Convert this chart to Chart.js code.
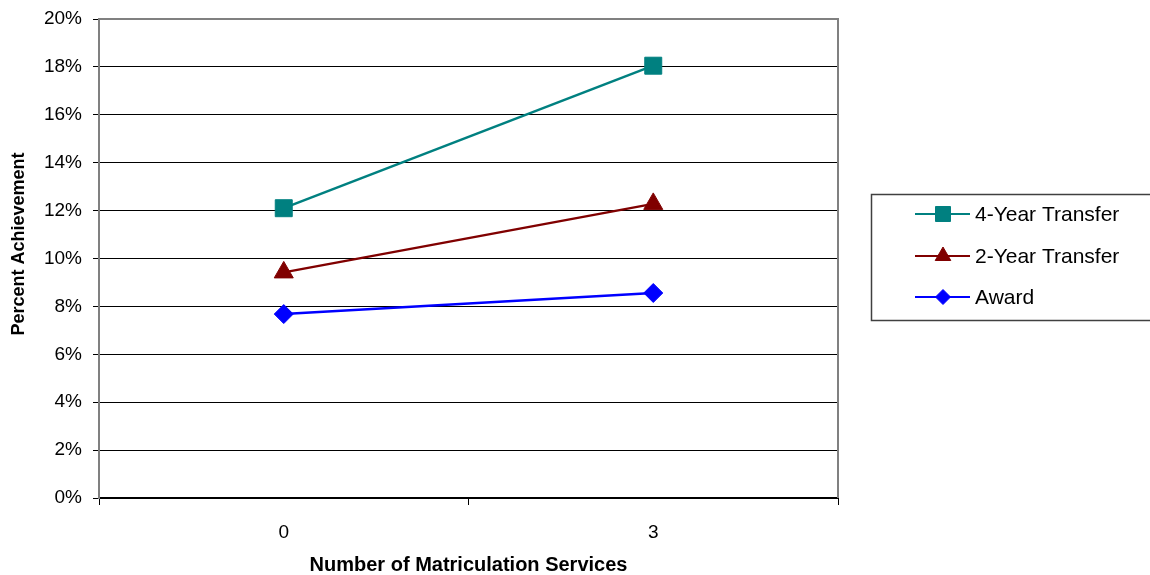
<!DOCTYPE html>
<html>
<head>
<meta charset="utf-8">
<style>
  html, body { margin: 0; padding: 0; background: #ffffff; }
  #wrap { width: 1150px; height: 575px; position: relative; }
</style>
<script src="https://cdn.jsdelivr.net/npm/chart.js@4/dist/chart.umd.min.js"></script>
</head>
<body>
<div id="wrap"><canvas id="chart" width="1150" height="575"></canvas></div>
<script>
// Matriculation services vs. outcome rates
const categories = ['0', '3'];
const fourYearTransfer = [12.1, 18.05];
const twoYearTransfer = [9.42, 12.28];
const award = [7.68, 8.56];
const yTicks = [0, 2, 4, 6, 8, 10, 12, 14, 16, 18, 20];
const yTitle = 'Percent Achievement';
const xTitle = 'Number of Matriculation Services';

const FONT = '"Liberation Sans", Arial, sans-serif';

const series = [
  { label: '4-Year Transfer', data: fourYearTransfer, color: '#008080', pointStyle: 'rect', radius: 12, legendRadius: 10.6 },
  { label: '2-Year Transfer', data: twoYearTransfer, color: '#800000', pointStyle: 'triangle', radius: 11, legendRadius: 9 },
  { label: 'Award', data: award, color: '#0000FF', pointStyle: 'rectRot', radius: 9.5, legendRadius: 7.5 }
];

// Plot frame (grey top/right border), y-axis title and boxed legend on the right
const framePlugin = {
  id: 'frameAndLegend',
  beforeDatasetsDraw(chart) {
    const { ctx, chartArea: a } = chart;
    ctx.save();
    ctx.strokeStyle = '#808080';
    ctx.lineWidth = 2;
    ctx.beginPath();
    ctx.moveTo(a.left, a.top);
    ctx.lineTo(a.right, a.top);
    ctx.lineTo(a.right, a.bottom);
    ctx.stroke();
    ctx.restore();
  },
  afterDraw(chart) {
    const { ctx } = chart;
    ctx.save();
    // y-axis title, rotated
    ctx.translate(19, 244);
    ctx.rotate(-Math.PI / 2);
    ctx.font = 'bold 18px ' + FONT;
    ctx.fillStyle = '#000000';
    ctx.textAlign = 'center';
    ctx.textBaseline = 'middle';
    ctx.fillText(yTitle, 0, 0);
    ctx.restore();

    ctx.save();
    ctx.strokeStyle = '#404040';
    ctx.lineWidth = 1.5;
    ctx.strokeRect(871.5, 194.5, 300, 126);
    ctx.font = '21px ' + FONT;
    ctx.textBaseline = 'middle';
    ctx.textAlign = 'left';
    const rows = [214, 256, 297];
    chart.data.datasets.forEach((ds, i) => {
      const y = rows[i];
      ctx.strokeStyle = ds.borderColor;
      ctx.lineWidth = 2;
      ctx.beginPath();
      ctx.moveTo(915, y);
      ctx.lineTo(970, y);
      ctx.stroke();
      ctx.fillStyle = ds.pointBackgroundColor;
      ctx.strokeStyle = ds.pointBackgroundColor;
      ctx.lineWidth = 1;
      Chart.helpers.drawPoint(ctx, {
        pointStyle: ds.pointStyle,
        radius: ds.legendRadius,
        rotation: 0,
        borderWidth: 1
      }, 943, y);
      ctx.fillStyle = '#000000';
      ctx.fillText(ds.label, 975, y + 1);
    });
    ctx.restore();
  }
};

new Chart(document.getElementById('chart'), {
  type: 'line',
  data: {
    labels: categories,
    datasets: series.map(s => ({
      label: s.label,
      data: s.data,
      borderColor: s.color,
      backgroundColor: s.color,
      pointBackgroundColor: s.color,
      pointBorderColor: s.color,
      pointStyle: s.pointStyle,
      pointRadius: s.radius,
      legendRadius: s.legendRadius,
      pointBorderWidth: 1,
      borderWidth: 2.5,
      tension: 0,
      fill: false
    }))
  },
  options: {
    responsive: false,
    animation: false,
    devicePixelRatio: 1,
    layout: { padding: { top: 19, right: 312, left: 0, bottom: 0 } },
    plugins: {
      legend: { display: false },
      tooltip: { enabled: false }
    },
    scales: {
      x: {
        type: 'category',
        offset: true,
        grid: {
          offset: true,
          display: true,
          drawOnChartArea: false,
          color: '#000000',
          tickLength: 7,
          lineWidth: 1
        },
        border: { display: true, color: '#000000', width: 2 },
        ticks: {
          color: '#000000',
          font: { family: FONT, size: 19 },
          padding: 16
        },
        title: {
          display: true,
          text: xTitle,
          color: '#000000',
          font: { family: FONT, size: 20, weight: 'bold', lineHeight: 1.0 },
          padding: { top: 10, bottom: 0 }
        },
        afterFit(scale) { scale.height = 77; }
      },
      y: {
        min: 0,
        max: 20,
        afterBuildTicks(scale) { scale.ticks = yTicks.map(v => ({ value: v })); },
        grid: {
          color: '#000000',
          lineWidth: 1,
          tickLength: 6,
          drawTicks: true
        },
        border: { display: true, color: '#808080', width: 2 },
        ticks: {
          color: '#000000',
          font: { family: FONT, size: 19, lineHeight: 1.0 },
          padding: 11,
          callback: v => v + '%'
        },
        title: { display: false },
        afterFit(scale) {
          scale.width = 99;
          scale.paddingTop = 0;
          scale.paddingBottom = 0;
        }
      }
    }
  },
  plugins: [framePlugin]
});
</script>
</body>
</html>
